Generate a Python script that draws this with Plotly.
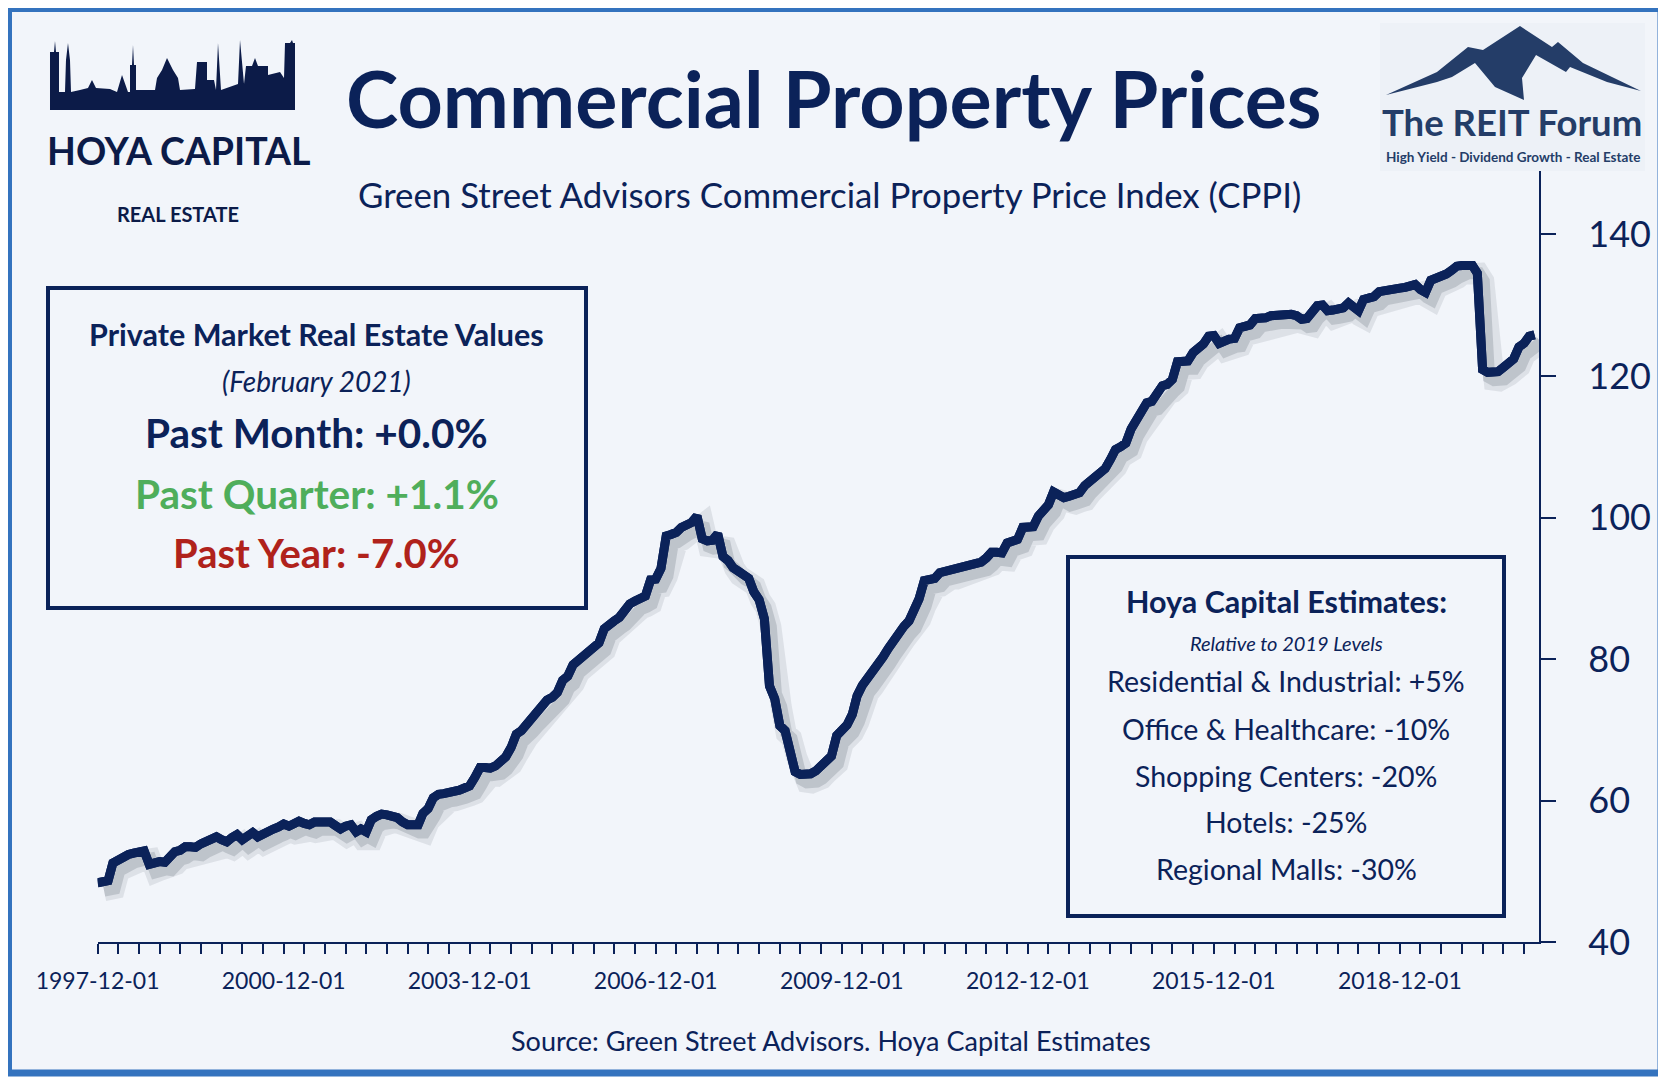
import pandas as pd
import plotly.graph_objects as go

W, H = 1666, 1084
OFF = 8  # the page puts the figure 8px in from the top-left corner

# Green Street CPPI, monthly
cppi_1997 = [48.4]
cppi_1998 = [48.5, 48.7, 51.2, 51.7, 51.9, 52.4, 52.6, 52.8, 52.9, 51.0, 51.3, 51.4]
cppi_1999 = [51.3, 52.1, 52.8, 53.0, 53.5, 53.5, 53.4, 53.9, 54.3, 54.6, 54.9, 54.5]
cppi_2000 = [54.2, 54.8, 55.2, 54.5, 55.0, 55.5, 54.9, 55.4, 55.9, 56.0, 56.3, 56.7]
cppi_2001 = [56.4, 56.7, 57.1, 56.8, 56.6, 57.0, 57.1, 57.0, 57.0, 56.5, 56.0, 56.4]
cppi_2002 = [56.6, 55.6, 56.0, 55.6, 57.3, 57.8, 58.1, 58.0, 57.9, 57.6, 57.0, 56.6]
cppi_2003 = [56.6, 56.6, 58.2, 58.9, 60.4, 60.9, 61.0, 61.1, 61.1, 61.5, 61.8, 62.1]
cppi_2004 = [63.3, 64.7, 64.7, 64.6, 64.9, 65.5, 66.2, 67.5, 69.4, 69.9, 70.8, 71.6]
cppi_2005 = [72.3, 73.4, 74.2, 74.6, 75.3, 77.0, 77.6, 79.2, 79.8, 80.4, 80.9, 81.4]
cppi_2006 = [82.3, 84.3, 85.0, 85.4, 85.9, 86.9, 87.8, 88.2, 88.5, 88.9, 91.2, 91.3]
cppi_2007 = [92.8, 97.4, 97.6, 97.9, 98.6, 99.0, 99.3, 100.2, 97.0, 96.7, 96.8, 97.7]
cppi_2008 = [94.5, 93.9, 92.9, 92.4, 92.0, 91.4, 89.5, 88.4, 85.7, 76.2, 74.4, 70.6]
cppi_2009 = [69.9, 67.2, 64.1, 63.7, 63.6, 63.8, 64.2, 65.0, 65.8, 66.3, 69.2, 69.8]
cppi_2010 = [70.7, 72.2, 74.8, 76.3, 77.2, 78.1, 79.0, 80.3, 81.5, 82.7, 83.8, 84.6]
cppi_2011 = [85.4, 86.7, 88.5, 91.1, 91.3, 91.4, 92.2, 92.4, 92.4, 92.6, 93.0, 93.1]
cppi_2012 = [93.2, 93.4, 93.7, 94.3, 95.1, 95.1, 95.0, 96.4, 96.6, 96.9, 98.6, 98.6]
cppi_2013 = [98.7, 100.2, 100.9, 101.8, 103.6, 103.2, 102.8, 103.0, 103.3, 103.5, 104.5, 105.2]
cppi_2014 = [105.8, 106.5, 106.9, 108.2, 109.6, 110.0, 110.5, 112.5, 113.6, 114.8, 116.2, 116.4]
cppi_2015 = [117.3, 118.6, 118.8, 119.5, 122.0, 122.1, 122.1, 123.3, 123.9, 124.5, 125.6, 125.7]
cppi_2016 = [124.6, 125.1, 125.2, 125.3, 126.8, 127.0, 127.2, 128.1, 128.1, 128.2, 128.5, 128.6]
cppi_2017 = [128.6, 128.6, 128.7, 128.5, 128.0, 128.1, 129.2, 129.9, 130.0, 129.2, 129.3, 129.5]
cppi_2018 = [129.6, 130.3, 129.6, 129.2, 130.8, 131.0, 131.2, 131.9, 132.1, 132.2, 132.2, 132.4]
cppi_2019 = [132.5, 132.8, 132.9, 132.2, 131.8, 133.5, 133.7, 134.0, 134.4, 134.9, 135.5, 135.6]
cppi_2020 = [135.6, 135.6, 134.5, 120.9, 120.5, 120.4, 120.6, 121.2, 121.8, 122.4, 124.1, 124.6]
cppi_2021 = [125.6, 125.8]

cppi = (cppi_1997 + cppi_1998 + cppi_1999 + cppi_2000 + cppi_2001 + cppi_2002
        + cppi_2003 + cppi_2004 + cppi_2005 + cppi_2006 + cppi_2007 + cppi_2008
        + cppi_2009 + cppi_2010 + cppi_2011 + cppi_2012 + cppi_2013 + cppi_2014
        + cppi_2015 + cppi_2016 + cppi_2017 + cppi_2018 + cppi_2019 + cppi_2020
        + cppi_2021)
dates = pd.date_range("1997-12-01", periods=len(cppi), freq="MS")

y_ticks = [40, 60, 80, 100, 120, 140]
x_range = ["1997-12-01", "2021-03-01"]
y_range = [40, 150]

box_left = ["<b>Private Market Real Estate Values</b>", "<i>(February 2021)</i>",
            "<b>Past Month: +0.0%</b>", "<b>Past Quarter: +1.1%</b>", "<b>Past Year: -7.0%</b>"]
box_right = ["<b>Hoya Capital Estimates:</b>", "<i>Relative to 2019 Levels</i>",
             "Residential & Industrial: +5%", "Office & Healthcare: -10%",
             "Shopping Centers: -20%", "Hotels: -25%", "Regional Malls: -30%"]

NAVY = "#0b2259"
GREEN = "#4fae5b"
RED = "#b0221b"
FONT = "Lato, Roboto, sans-serif"


def fx(x):
    return (x - OFF) / W


def fy(y):
    return 1 - (y - OFF) / H


def path(points):
    s = "M " + " L ".join(f"{fx(a):.5f},{fy(b):.5f}" for a, b in points)
    return s + " Z"


fig = go.Figure()

# base copy of the line so the main subplot exists
fig.add_trace(go.Scatter(x=dates, y=cppi, mode="lines",
                         line=dict(color=NAVY, width=9), showlegend=False))
# soft drop shadow, drawn on shifted overlay axes
fig.add_trace(go.Scatter(x=dates, y=cppi, mode="lines", xaxis="x2", yaxis="y2",
                         line=dict(color="rgba(70,80,95,0.12)", width=21),
                         hoverinfo="skip", showlegend=False))
fig.add_trace(go.Scatter(x=dates, y=cppi, mode="lines", xaxis="x2", yaxis="y2",
                         line=dict(color="rgba(70,80,95,0.2)", width=12),
                         hoverinfo="skip", showlegend=False))
fig.add_trace(go.Scatter(x=dates, y=cppi, mode="lines", xaxis="x3", yaxis="y3",
                         line=dict(color=NAVY, width=9), showlegend=False))

dom_x = [fx(97.6), fx(1539.3)]
dom_y = [fy(942.3), fy(163.5)]
shift_days = pd.Timedelta(days=38)
dy = 1.1

fig.update_layout(
    width=W, height=H,
    margin=dict(l=0, r=0, t=0, b=0, autoexpand=False),
    paper_bgcolor="white",
    plot_bgcolor="rgba(0,0,0,0)",
    showlegend=False,
    xaxis=dict(type="date", domain=dom_x, range=x_range, anchor="y", automargin=False,
               showline=True, linecolor=NAVY, linewidth=2, showgrid=False, zeroline=False,
               ticks="outside", ticklen=10, tickwidth=1.5, tickcolor=NAVY,
               tick0="1997-12-01", dtick="M36", tickformat="%Y-%m-%d",
               ticklabelstandoff=7,
               tickfont=dict(family=FONT, size=23, color=NAVY),
               minor=dict(tick0="1997-12-01", dtick="M4", ticks="outside", ticklen=10,
                          tickwidth=1.5, tickcolor=NAVY, showgrid=False)),
    yaxis=dict(domain=dom_y, range=y_range, side="right", anchor="x", automargin=False,
               showline=True, linecolor=NAVY, linewidth=1.5, showgrid=False, zeroline=False,
               ticks="outside", ticklen=15, tickwidth=1.5, tickcolor=NAVY,
               tickvals=y_ticks, ticklabelstandoff=25,
               tickfont=dict(family=FONT, size=36, color=NAVY)),
    xaxis2=dict(type="date", overlaying="x", anchor="y2", domain=dom_x, visible=False,
                automargin=False,
                range=[pd.Timestamp(x_range[0]) - shift_days, pd.Timestamp(x_range[1]) - shift_days]),
    yaxis2=dict(overlaying="y", anchor="x2", domain=dom_y, visible=False, automargin=False,
                range=[y_range[0] + dy, y_range[1] + dy]),
    xaxis3=dict(type="date", overlaying="x", anchor="y3", domain=dom_x, visible=False,
                automargin=False, range=x_range),
    yaxis3=dict(overlaying="y", anchor="x3", domain=dom_y, visible=False, automargin=False,
                range=y_range),
)

# skyline of the Hoya Capital logo
skyline = [(50, 110), (50, 52), (54, 52), (55, 41), (56, 52), (59, 52), (59, 92), (65, 92),
           (66, 60), (68, 43), (70, 60), (71, 92), (80, 90), (88, 88), (92, 80), (96, 88),
           (110, 89), (117, 92), (122, 75), (128, 92), (130, 92), (130, 65), (132, 65),
           (133, 45), (134, 65), (136, 65), (136, 90), (155, 90), (157, 78), (162, 70),
           (167, 58), (173, 70), (178, 78), (180, 90), (195, 89), (197, 62), (207, 62),
           (207, 80), (214, 80), (216, 90), (218, 43), (221, 90), (238, 84), (240, 40),
           (244, 84), (246, 66), (252, 66), (255, 58), (258, 66), (268, 66), (268, 75),
           (280, 72), (284, 78), (285, 43), (290, 43), (292, 40), (293, 43), (295, 43),
           (295, 110)]
mountain = [(1386, 95), (1437, 72), (1468, 47), (1483, 50), (1520, 26), (1552, 47),
            (1558, 42), (1583, 63), (1641, 91), (1607, 82), (1570, 67), (1566, 72),
            (1536, 55), (1522, 78), (1524, 100), (1495, 87), (1475, 63), (1452, 77),
            (1437, 82)]

shapes = [
    dict(type="rect", xref="paper", yref="paper", x0=fx(8.5), y0=fy(1073), x1=fx(1661), y1=fy(8.5),
         line=dict(color="#3473be", width=7), fillcolor="#f2f5fa", layer="below"),
    dict(type="rect", xref="paper", yref="paper", x0=fx(48), y0=fy(608), x1=fx(586), y1=fy(288),
         line=dict(color=NAVY, width=4), fillcolor="rgba(0,0,0,0)", layer="below"),
    dict(type="rect", xref="paper", yref="paper", x0=fx(1068), y0=fy(916), x1=fx(1504), y1=fy(557),
         line=dict(color=NAVY, width=4), fillcolor="rgba(0,0,0,0)", layer="below"),
    dict(type="rect", xref="paper", yref="paper", x0=fx(1380), y0=fy(171), x1=fx(1645), y1=fy(23),
         line=dict(width=0), fillcolor="#edf1f7", layer="above"),
    dict(type="path", xref="paper", yref="paper", path=path(mountain),
         line=dict(width=0), fillcolor="#243d68", layer="above"),
    dict(type="path", xref="paper", yref="paper", path=path(skyline),
         line=dict(width=0), fillcolor="#0c1b48", layer="above"),
    dict(type="rect", xref="paper", yref="paper", x0=fx(50), y0=fy(110), x1=fx(295), y1=fy(97),
         line=dict(width=0), fillcolor="#0c1b48", layer="above"),
]
fig.update_layout(shapes=shapes)


def note(text, x, y, size, color=NAVY):
    fig.add_annotation(text=text, x=fx(x), y=fy(y), xref="paper", yref="paper",
                       xanchor="center", yanchor="middle", showarrow=False,
                       font=dict(family=FONT, size=size, color=color))


note("<b>Commercial Property Prices</b>", 834, 98, 79)
note("Green Street Advisors Commercial Property Price Index (CPPI)", 829, 194, 34.8)
note("Source: Green Street Advisors. Hoya Capital Estimates", 831, 1040, 27)

left_y = [334, 381, 433, 493, 553]
left_size = [30.5, 28, 40.5, 40.5, 40]
left_color = [NAVY, NAVY, NAVY, GREEN, RED]
for t, y, s, c in zip(box_left, left_y, left_size, left_color):
    note(t, 316.5, y, s, c)

right_y = [601, 643, 681, 729, 776, 822, 869]
right_size = [30.5, 20, 28.5, 28.5, 28.5, 28.5, 28.5]
for t, y, s in zip(box_right, right_y, right_size):
    note(t, 1286, y, s)

note("<b>HOYA CAPITAL</b>", 179, 150, 37.5, "#0c1b48")
note("<b>REAL ESTATE</b>", 178, 214, 20, "#0c1b48")
note("<b>The REIT Forum</b>", 1512, 122, 36.5, "#243d68")
note("<b>High Yield - Dividend Growth - Real Estate</b>", 1513, 157, 13.5, "#243d68")

fig.write_html("out.html")
